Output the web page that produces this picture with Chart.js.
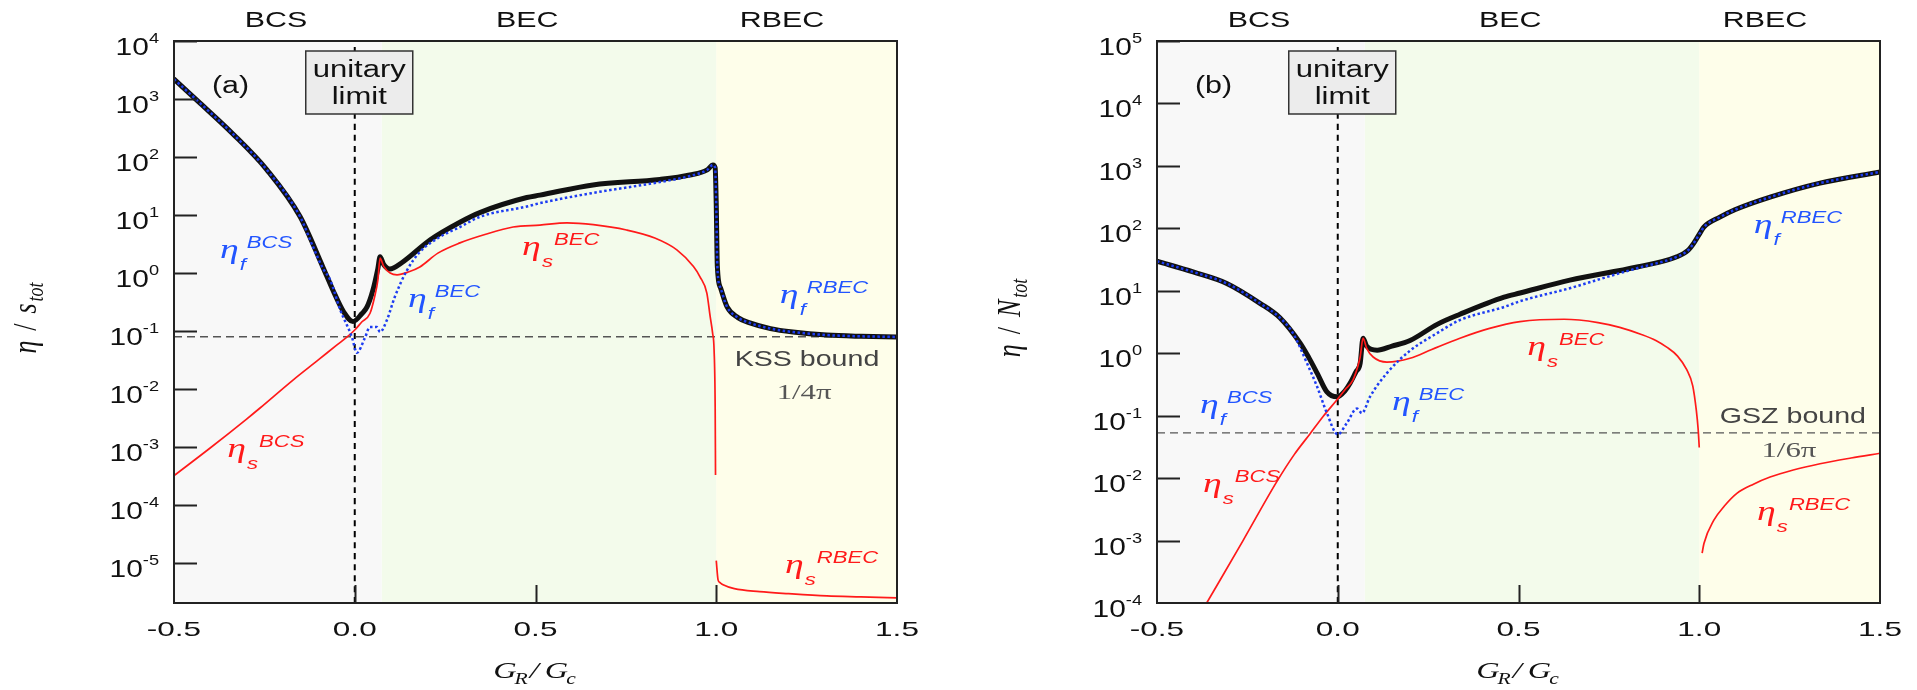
<!DOCTYPE html>
<html>
<head>
<meta charset="utf-8">
<script src="https://cdn.jsdelivr.net/npm/chart.js@4.4.0/dist/chart.umd.min.js"></script>
<style>
body { margin: 0; background: #fff; }
canvas { position: absolute; top: 0; }
</style>
</head>
<body>
<canvas id="chartA" width="958" height="690" style="left:0px"></canvas>
<canvas id="chartB" width="959" height="690" style="left:958px"></canvas>
<script>
// ---- panel (a): eta / s_tot ----
var aTotX = [-0.5, -0.428, -0.337, -0.243, -0.151, -0.088, -0.06, -0.03, -0.005, 0.02, 0.034, 0.05, 0.064, 0.07, 0.08, 0.097, 0.13, 0.208, 0.291, 0.346, 0.476, 0.512, 0.659, 0.844, 0.927, 0.975, 0.991, 0.997, 1.0, 1.003, 1.012, 1.03, 1.06, 1.093, 1.15, 1.212, 1.306, 1.4, 1.5];
var aTotY = [2200, 850, 250, 60, 9.3, 1.26, 0.5, 0.21, 0.145, 0.2, 0.26, 0.5, 1.2, 1.9, 1.4, 1.17, 1.5, 3.7, 7.5, 11, 20, 22, 33, 41, 49, 60, 73, 65, 15, 1.3, 0.55, 0.26, 0.17, 0.138, 0.11, 0.096, 0.085, 0.081, 0.079];

var aFX = [-0.5, -0.428, -0.337, -0.243, -0.151, -0.115, -0.088, -0.068, -0.04, -0.008, 0.006, 0.028, 0.042, 0.061, 0.07, 0.089, 0.111, 0.144, 0.18, 0.236, 0.291, 0.346, 0.476, 0.512, 0.659, 0.844, 0.927, 0.975, 0.991, 0.997, 1.0, 1.003, 1.012, 1.03, 1.06, 1.093, 1.15, 1.212, 1.306, 1.4, 1.5];
var aFY = [2200, 850, 250, 60, 9.3, 2.8, 1.2, 0.76, 0.23, 0.079, 0.042, 0.076, 0.117, 0.117, 0.096, 0.155, 0.39, 1.1, 2.3, 4.2, 6.2, 9.3, 14, 16, 24, 37, 47, 60, 73, 65, 15, 1.3, 0.55, 0.26, 0.17, 0.138, 0.11, 0.096, 0.085, 0.081, 0.079];

var aSX = [-0.5, -0.4, -0.3, -0.262, -0.17, -0.1, -0.05, -0.021, 0.0, 0.02, 0.042, 0.055, 0.064, 0.07, 0.08, 0.098, 0.117, 0.15, 0.18, 0.23, 0.291, 0.36, 0.438, 0.512, 0.587, 0.66, 0.752, 0.83, 0.891, 0.937, 0.955, 0.974, 0.983, 0.99, 0.994, 0.997, 0.998];
var aSY = [3.2e-4, 9.6e-4, 3.0e-3, 4.7e-3, 0.0144, 0.032, 0.057, 0.079, 0.104, 0.144, 0.2, 0.39, 0.76, 1.8, 1.3, 1.0, 0.93, 1.05, 1.27, 2.2, 3.3, 4.6, 6.2, 6.7, 7.3, 6.8, 5.5, 4.0, 2.5, 1.29, 0.86, 0.45, 0.18, 0.091, 0.047, 0.005, 3.3e-4];

var aSRX = [1.0, 1.005, 1.01, 1.019, 1.05, 1.12, 1.2, 1.306, 1.4, 1.5];
var aSRY = [1.1e-5, 5.1e-6, 4.6e-6, 4.2e-6, 3.6e-6, 3.2e-6, 2.95e-6, 2.7e-6, 2.6e-6, 2.5e-6];

var kssBound = 0.0796;

// ---- panel (b): eta / N_tot ----
var bTotX = [-0.5, -0.4, -0.307, -0.215, -0.16, -0.104, -0.08, -0.057, -0.03, -0.002, 0.02, 0.034, 0.05, 0.062, 0.07, 0.08, 0.109, 0.15, 0.2, 0.275, 0.338, 0.46, 0.504, 0.642, 0.828, 0.938, 0.97, 0.985, 1.002, 1.013, 1.057, 1.1, 1.196, 1.334, 1.5];
var bTotY = [29.7, 20, 13.1, 6.3, 3.7, 1.45, 0.85, 0.48, 0.24, 0.2, 0.25, 0.33, 0.5, 0.69, 1.74, 1.3, 1.12, 1.3, 1.6, 2.9, 4.2, 7.9, 9.2, 14.8, 24, 35, 45, 58, 84, 105, 151, 200, 316, 530, 800];

var bFX = [-0.5, -0.4, -0.307, -0.215, -0.16, -0.124, -0.085, -0.057, -0.03, 0.0, 0.025, 0.053, 0.067, 0.089, 0.136, 0.2, 0.275, 0.338, 0.46, 0.504, 0.642, 0.75, 0.828, 0.938, 0.97, 0.985, 1.002, 1.013, 1.057, 1.1, 1.196, 1.334, 1.5];
var bFY = [29.7, 20, 13.1, 6.3, 3.7, 2.1, 0.69, 0.29, 0.11, 0.05, 0.076, 0.13, 0.11, 0.2, 0.48, 1.1, 2.1, 3.4, 5.5, 6.8, 11, 17, 23, 35, 45, 58, 84, 105, 151, 200, 316, 530, 800];

var bSX = [-0.3625, -0.262, -0.169, -0.12, -0.077, -0.04, -0.002, 0.02, 0.042, 0.055, 0.062, 0.07, 0.08, 0.098, 0.136, 0.2, 0.26, 0.338, 0.42, 0.504, 0.626, 0.72, 0.78, 0.84, 0.88, 0.91, 0.94, 0.965, 0.982, 0.992, 0.997, 1.0];
var bSY = [1e-4, 1.0e-3, 8.7e-3, 0.024, 0.051, 0.098, 0.18, 0.26, 0.37, 0.6, 0.87, 1.74, 1.2, 0.87, 0.72, 0.83, 1.15, 1.74, 2.5, 3.2, 3.5, 3.1, 2.6, 2.0, 1.6, 1.25, 0.9, 0.55, 0.3, 0.12, 0.06, 0.031];

var bSRX = [1.008, 1.013, 1.04, 1.07, 1.104, 1.15, 1.196, 1.26, 1.334, 1.42, 1.5];
var bSRY = [6.3e-4, 9e-4, 2.1e-3, 3.6e-3, 5.7e-3, 8e-3, 0.0104, 0.0135, 0.017, 0.021, 0.025];

var gszBound = 0.0531;

// ---- shared axis / region info ----
var xTickVals = [-0.5, 0, 0.5, 1, 1.5];
var xTickText = ['-0.5', '0.0', '0.5', '1.0', '1.5'];
var innerTicksX = [0, 0.5, 1];
var regionEdges = [-0.5, 0.075, 1.0, 1.5];
var regionNames = ['BCS', 'BEC', 'RBEC'];
var regionLabelX = [-0.218, 0.477, 1.182];
var regionColors = ['#f8f8f8', '#f3fbeb', '#fefeea'];

var BLUE = '#1d3cf2';
var BLUE_TXT = '#2255ff';
var RED = '#ff1a1a';

var etaLabelsA = [
  { x: -0.373, y: 1.8, sub: 'f', sup: 'BCS', c: BLUE_TXT },
  { x: -0.353, y: 6.7e-4, sub: 's', sup: 'BCS', c: RED },
  { x: 0.147, y: 0.26, sub: 'f', sup: 'BEC', c: BLUE_TXT },
  { x: 0.463, y: 2.04, sub: 's', sup: 'BEC', c: RED },
  { x: 1.176, y: 0.30, sub: 'f', sup: 'RBEC', c: BLUE_TXT },
  { x: 1.19, y: 6.7e-6, sub: 's', sup: 'RBEC', c: RED }
];
var etaLabelsB = [
  { x: -0.381, y: 0.112, sub: 'f', sup: 'BCS', c: BLUE_TXT },
  { x: -0.373, y: 5.9e-3, sub: 's', sup: 'BCS', c: RED },
  { x: 0.150, y: 0.122, sub: 'f', sup: 'BEC', c: BLUE_TXT },
  { x: 0.524, y: 0.93, sub: 's', sup: 'BEC', c: RED },
  { x: 1.151, y: 83, sub: 'f', sup: 'RBEC', c: BLUE_TXT },
  { x: 1.160, y: 2.1e-3, sub: 's', sup: 'RBEC', c: RED }
];

function pts(xs, ys) {
  return xs.map(function (x, i) { return { x: x, y: ys[i] }; });
}

// text with a horizontal stretch, like the original figure
function stext(ctx, s, x, y, font, color, align, sx) {
  ctx.save();
  ctx.font = font;
  ctx.fillStyle = color;
  var w = ctx.measureText(s).width * sx;
  var x0 = x;
  if (align === 'center') x0 = x - w / 2;
  if (align === 'right') x0 = x - w;
  ctx.translate(x0, y);
  ctx.scale(sx, 1);
  ctx.textAlign = 'left';
  ctx.textBaseline = 'alphabetic';
  ctx.fillText(s, 0, 0);
  ctx.restore();
  return w;
}

function etaLabel(ctx, px, py, sub, sup, color) {
  var w = stext(ctx, '\u03b7', px, py, 'italic 28px "Liberation Serif"', color, 'left', 1.35);
  var sw = stext(ctx, sub, px + w + 1, py + 12, 'italic 17px "Liberation Sans"', color, 'left', 1.3);
  stext(ctx, sup, px + w + sw + 2, py - 10, 'italic 17px "Liberation Sans"', color, 'left', 1.3);
}

function decor(p) {
  return {
    id: 'decor' + p.tag,
    beforeDatasetsDraw: function (chart) {
      var ctx = chart.ctx, a = chart.chartArea, xs = chart.scales.x;
      ctx.save();
      for (var i = 0; i < regionNames.length; i++) {
        var x0 = xs.getPixelForValue(regionEdges[i]);
        var x1 = xs.getPixelForValue(regionEdges[i + 1]);
        ctx.fillStyle = regionColors[i];
        ctx.fillRect(x0, a.top, x1 - x0, a.bottom - a.top);
      }
      ctx.restore();
    },
    afterDatasetsDraw: function (chart) {
      var ctx = chart.ctx, a = chart.chartArea, xs = chart.scales.x, ys = chart.scales.y;
      ctx.save();

      // unitary limit box
      var ux = xs.getPixelForValue(0);
      ctx.fillStyle = '#ececec';
      ctx.strokeStyle = '#333';
      ctx.lineWidth = 1.5;
      ctx.fillRect(ux - 49, a.top + 10, 107, 63);
      ctx.strokeRect(ux - 49, a.top + 10, 107, 63);
      stext(ctx, 'unitary', ux + 4.5, a.top + 36, '23px "Liberation Sans"', '#111', 'center', 1.35);
      stext(ctx, 'limit', ux + 4.5, a.top + 63, '23px "Liberation Sans"', '#111', 'center', 1.35);

      // frame
      ctx.strokeStyle = '#222';
      ctx.lineWidth = 2;
      ctx.strokeRect(a.left, a.top, a.right - a.left, a.bottom - a.top);

      // y ticks and labels
      for (var e = p.expLo; e <= p.expHi; e++) {
        var ty = Math.round(ys.getPixelForValue(Math.pow(10, e))) + 0.5;
        if (e > p.expLo || ty < a.bottom - 2) {
          ctx.beginPath();
          ctx.moveTo(a.left, ty);
          ctx.lineTo(a.left + 23, ty);
          ctx.stroke();
        }
        var sup = e < 0 ? '-' + (-e) : String(e);
        var sw = stext(ctx, sup, a.left - 15, ty + 1, '14px "Liberation Sans"', '#111', 'right', 1.3);
        stext(ctx, '10', a.left - 15 - sw, ty + 13, '23px "Liberation Sans"', '#111', 'right', 1.3);
      }

      // x ticks and labels
      innerTicksX.forEach(function (v) {
        var tx = Math.round(xs.getPixelForValue(v)) + 0.5;
        ctx.beginPath();
        ctx.moveTo(tx, a.bottom);
        ctx.lineTo(tx, a.bottom - 18);
        ctx.stroke();
      });
      xTickVals.forEach(function (v, i) {
        stext(ctx, xTickText[i], xs.getPixelForValue(v), a.bottom + 33, '21px "Liberation Sans"', '#111', 'center', 1.5);
      });

      // regime names above the frame
      regionNames.forEach(function (n, i) {
        stext(ctx, n, xs.getPixelForValue(regionLabelX[i]), a.top - 14, '22px "Liberation Sans"', '#111', 'center', 1.38);
      });

      // x axis title  G_R / G_c
      var cx = (a.left + a.right) / 2, by = a.bottom + 75;
      var serif = 'italic 24px "Liberation Serif"', small = 'italic 16px "Liberation Serif"';
      ctx.font = serif;
      var wG = ctx.measureText('G').width * 1.35;
      ctx.font = small;
      var wR = ctx.measureText('R').width * 1.35, wc = ctx.measureText('c').width * 1.35;
      ctx.font = serif;
      var wS = ctx.measureText('/').width * 1.35;
      var total = wG + wR + wS + 6 + wG + wc;
      var xx = cx - total / 2;
      stext(ctx, 'G', xx, by, serif, '#111', 'left', 1.35); xx += wG;
      stext(ctx, 'R', xx - 2, by + 6, small, '#111', 'left', 1.35); xx += wR;
      stext(ctx, '/', xx, by, serif, '#111', 'left', 1.35); xx += wS + 6;
      stext(ctx, 'G', xx, by, serif, '#111', 'left', 1.35); xx += wG;
      stext(ctx, 'c', xx - 2, by + 6, small, '#111', 'left', 1.35);

      // y axis title (rotated)
      ctx.save();
      ctx.translate(p.yTitleX, (a.top + a.bottom) / 2 - 4);
      ctx.rotate(-Math.PI / 2);
      ctx.scale(1, 1.3);
      ctx.fillStyle = '#111';
      var big = 'italic 26px "Liberation Serif"', sm = 'italic 18px "Liberation Serif"';
      ctx.font = big;
      var w1 = ctx.measureText('\u03b7').width, w2 = ctx.measureText('/').width, w3 = ctx.measureText(p.yTitleMain).width;
      ctx.font = sm;
      var w4 = ctx.measureText('tot').width;
      var gap = 10;
      var tw = w1 + gap + w2 + gap + w3 + w4 + 2;
      var px = -tw / 2;
      ctx.textBaseline = 'alphabetic';
      ctx.font = big;
      ctx.fillText('\u03b7', px, 0); px += w1 + gap;
      ctx.font = '26px "Liberation Serif"';
      ctx.fillText('/', px, 0); px += w2 + gap;
      ctx.font = big;
      ctx.fillText(p.yTitleMain, px, 0); px += w3 + 2;
      ctx.font = sm;
      ctx.fillText('tot', px, 5);
      ctx.restore();

      // panel tag
      stext(ctx, p.tag, xs.getPixelForValue(p.tagX), ys.getPixelForValue(p.tagY), '23px "Liberation Sans"', '#111', 'left', 1.32);

      // bound texts
      stext(ctx, p.boundText, xs.getPixelForValue(p.boundTextX), ys.getPixelForValue(p.boundTextY), '22px "Liberation Sans"', '#444', 'center', 1.3);
      stext(ctx, p.boundFrac, xs.getPixelForValue(p.boundFracX), ys.getPixelForValue(p.boundFracY), '22px "Liberation Serif"', '#555', 'center', 1.4);

      // eta labels
      p.labels.forEach(function (l) {
        etaLabel(ctx, xs.getPixelForValue(l.x), ys.getPixelForValue(l.y), l.sub, l.sup, l.c);
      });

      ctx.restore();
    }
  };
}

function makeDatasets(fx, fy, sx, sy, srx, sry, tx, ty, bound, yMin, yMax) {
  return [
    { data: pts(fx, fy), borderColor: BLUE, borderWidth: 2.5, borderDash: [2.5, 2.5], order: 1 },
    { data: pts(sx, sy), borderColor: RED, borderWidth: 1.7, order: 2 },
    { data: pts(srx, sry), borderColor: RED, borderWidth: 1.7, order: 2 },
    { data: pts(tx, ty), borderColor: '#111', borderWidth: 5, borderJoinStyle: 'round', borderCapStyle: 'round', order: 3 },
    { data: [{ x: -0.5, y: bound }, { x: 1.5, y: bound }], borderColor: '#555', borderWidth: 1.3, borderDash: [8, 5], order: 4 },
    { data: [{ x: 0, y: yMin }, { x: 0, y: yMax }], borderColor: '#000', borderWidth: 2, borderDash: [6, 5], order: 5 }
  ];
}

function makeChart(id, pad, yMin, yMax, datasets, plugin) {
  return new Chart(document.getElementById(id), {
    type: 'line',
    data: { datasets: datasets },
    options: {
      responsive: false,
      animation: false,
      devicePixelRatio: 1,
      layout: { padding: pad },
      plugins: { legend: { display: false }, tooltip: { enabled: false } },
      elements: { point: { radius: 0 }, line: { cubicInterpolationMode: 'monotone', fill: false } },
      scales: {
        x: { type: 'linear', min: -0.5, max: 1.5, display: false },
        y: { type: 'logarithmic', min: yMin, max: yMax, display: false }
      }
    },
    plugins: [plugin]
  });
}

var chartA = makeChart('chartA', { left: 174, top: 41, right: 61, bottom: 87 }, 2.04e-6, 1e4,
  makeDatasets(aFX, aFY, aSX, aSY, aSRX, aSRY, aTotX, aTotY, kssBound, 2.04e-6, 1e4),
  decor({
    tag: '(a)', tagX: -0.395, tagY: 1260, expLo: -5, expHi: 4, yTitleX: 36, yTitleMain: 's',
    boundText: 'KSS bound', boundTextX: 1.251, boundTextY: 0.025,
    boundFrac: '1/4\u03c0', boundFracX: 1.243, boundFracY: 0.0067,
    labels: etaLabelsA
  }));

var chartB = makeChart('chartB', { left: 199, top: 41, right: 37, bottom: 87 }, 1e-4, 1e5,
  makeDatasets(bFX, bFY, bSX, bSY, bSRX, bSRY, bTotX, bTotY, gszBound, 1e-4, 1e5),
  decor({
    tag: '(b)', tagX: -0.395, tagY: 14700, expLo: -4, expHi: 5, yTitleX: 62, yTitleMain: 'N',
    boundText: 'GSZ bound', boundTextX: 1.259, boundTextY: 0.076,
    boundFrac: '1/6\u03c0', boundFracX: 1.248, boundFracY: 0.0215,
    labels: etaLabelsB
  }));
</script>
</body>
</html>
